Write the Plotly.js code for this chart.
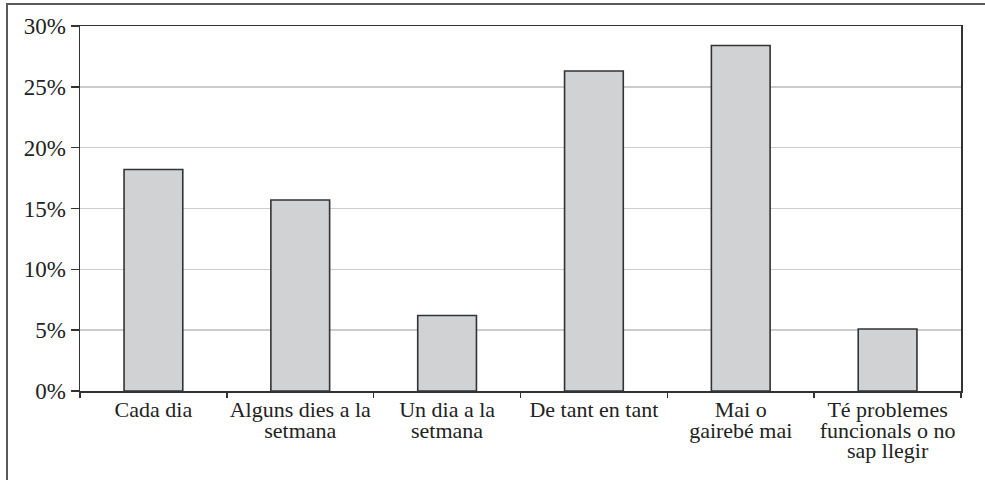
<!DOCTYPE html>
<html>
<head>
<meta charset="utf-8">
<script src="https://cdn.plot.ly/plotly-3.0.1.min.js"></script>
<style>
  html, body { margin: 0; padding: 0; overflow: hidden; background: #fff; }
  #wrap { position: relative; width: 985px; height: 480px; overflow: hidden; }
  #frame { position: absolute; left: 6px; top: 3px; width: 1000px; height: 500px; border: 2px solid #5a5a5a; box-sizing: border-box; }
  #chart { position: absolute; left: 0; top: 0; width: 985px; height: 480px; }
</style>
</head>
<body>
<div id="wrap">
  <div id="frame"></div>
  <div id="chart"></div>
</div>
<script>
// Categories (line breaks as in the reference)
const categories = [
  ["Cada dia"],
  ["Alguns dies a la", "setmana"],
  ["Un dia a la", "setmana"],
  ["De tant en tant"],
  ["Mai o", "gairebé mai"],
  ["Té problemes", "funcionals o no", "sap llegir"]
];
// Percentages
const values = [18.2, 15.7, 6.2, 26.3, 28.4, 5.1];
const yTickVals = [0, 5, 10, 15, 20, 25, 30];

const keys = categories.map(c => c.join(" "));
const tickText = categories.map(lines =>
  lines.map(l => '<span style="font-size:22px">' + l + '</span>').join('<br>')
);

const trace = {
  type: 'bar',
  x: keys,
  y: values,
  marker: { color: '#d1d2d4', line: { color: '#333333', width: 1.6 } },
  hoverinfo: 'skip'
};

const serif = '"Liberation Serif", "DejaVu Serif", serif';

const layout = {
  width: 985,
  height: 480,
  margin: { l: 80, r: 24, t: 26, b: 89 },
  paper_bgcolor: 'rgba(0,0,0,0)',
  plot_bgcolor: '#ffffff',
  bargap: 0.6,
  showlegend: false,
  font: { family: serif, color: '#222222', size: 21 },
  xaxis: {
    type: 'category',
    tickmode: 'array',
    tickvals: keys,
    ticktext: tickText,
    tickson: 'boundaries',
    ticks: 'outside',
    ticklen: 5,
    tickwidth: 1.5,
    tickcolor: '#333333',
    tickangle: 0,
    ticklabelstandoff: 5,
    tickfont: { size: 16, family: serif, color: '#222222' },
    showline: true,
    linecolor: '#333333',
    linewidth: 1.5,
    mirror: true,
    showgrid: false,
    zeroline: false,
    fixedrange: true
  },
  yaxis: {
    range: [0, 30],
    tickmode: 'array',
    tickvals: yTickVals,
    ticktext: yTickVals.map(v => v + '%'),
    ticks: 'outside',
    ticklen: 8,
    tickwidth: 1.5,
    tickcolor: '#333333',
    tickfont: { size: 23, family: serif, color: '#222222' },
    showline: true,
    linecolor: '#333333',
    linewidth: 1.5,
    mirror: true,
    showgrid: true,
    gridcolor: '#cccccc',
    gridwidth: 1.5,
    zeroline: false,
    fixedrange: true
  }
};

Plotly.newPlot('chart', [trace], layout, { displayModeBar: false, staticPlot: true });
</script>
</body>
</html>
